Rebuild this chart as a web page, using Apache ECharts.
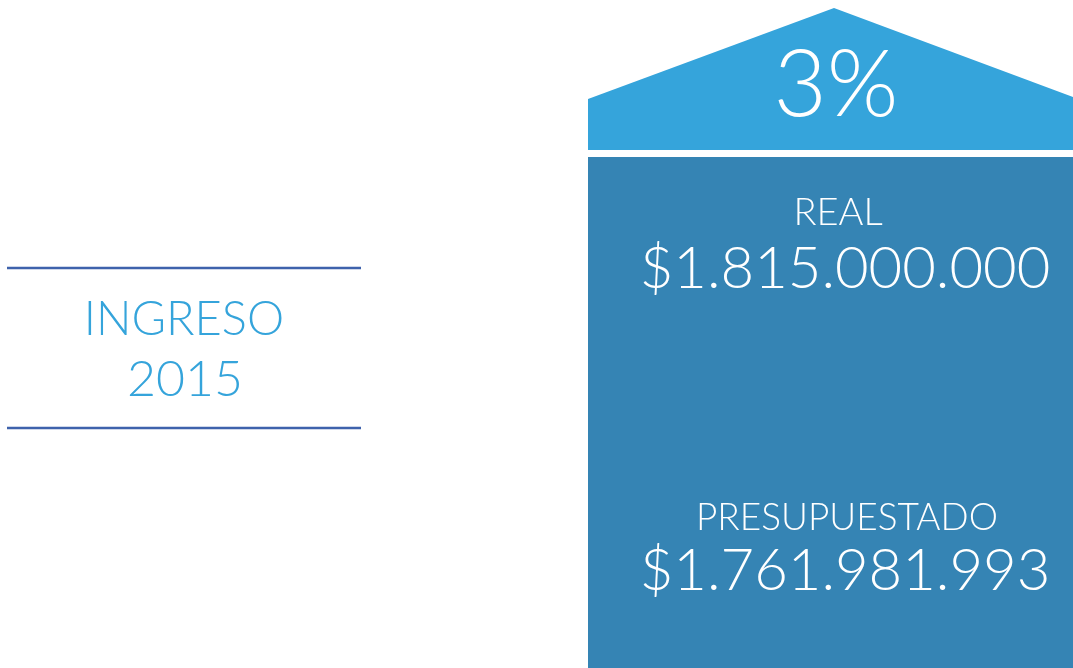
<!DOCTYPE html>
<html>
<head>
<meta charset="utf-8">
<script src="https://cdn.jsdelivr.net/npm/echarts@6/dist/echarts.min.js"></script>
<style>
  html, body { margin: 0; padding: 0; background: #fff; }
  #chart { width: 1073px; height: 668px; }
</style>
</head>
<body>
<div id="chart"></div>
<script>
const titleLines = ['INGRESO', '2015'];
const amountLabels = ['REAL', 'PRESUPUESTADO'];
const amounts = [1815000000, 1761981993];

const FONT = 'Lato';
const roofColor = '#35a4db';
const bodyColor = '#3584b4';
const lineColor = '#3e62ac';

function formatMoney(n) {
  return '$' + String(n).replace(/\B(?=(\d{3})+(?!\d))/g, '.');
}

// variation real vs budget
const variation = Math.round((amounts[0] / amounts[1] - 1) * 100) + '%';

const chart = echarts.init(document.getElementById('chart'));

function txt(text, x, y, size, color) {
  return {
    type: 'text',
    x: x,
    y: y,
    style: {
      text: text,
      fill: color,
      fontSize: size,
      fontFamily: FONT,
      fontWeight: 300,
      align: 'center',
      verticalAlign: 'middle'
    }
  };
}

chart.setOption({
  animation: false,
  graphic: [
    // left title block
    { type: 'line', shape: { x1: 7, y1: 268, x2: 361, y2: 268 }, style: { stroke: lineColor, lineWidth: 2.5 } },
    { type: 'line', shape: { x1: 7, y1: 428, x2: 361, y2: 428 }, style: { stroke: lineColor, lineWidth: 2.5 } },
    txt(titleLines[0], 184, 320, 47, roofColor),
    txt(titleLines[1], 185, 380, 50, roofColor),

    // house roof
    {
      type: 'polygon',
      shape: { points: [[588, 99], [834, 8], [1073, 97], [1073, 150], [588, 150]] },
      style: { fill: roofColor }
    },
    txt(variation, 836, 86, 92, '#fff'),

    // house body
    { type: 'rect', shape: { x: 588, y: 157, width: 485, height: 511 }, style: { fill: bodyColor } },
    txt(amountLabels[0], 838, 213, 38, '#fff'),
    txt(formatMoney(amounts[0]), 845, 269, 58, '#fff'),
    txt(amountLabels[1], 847, 518, 37, '#fff'),
    txt(formatMoney(amounts[1]), 845, 571, 58, '#fff')
  ]
});
</script>
</body>
</html>
